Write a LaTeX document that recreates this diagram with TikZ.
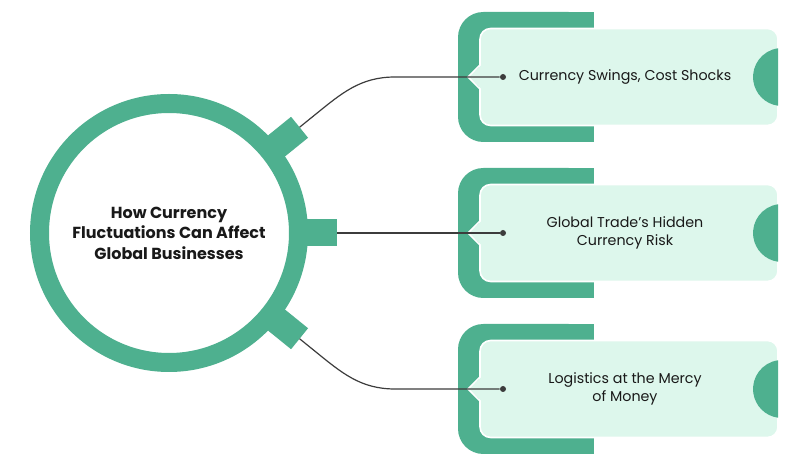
\documentclass[tikz,border=0pt]{standalone}
\usepackage{fontspec}
\setmainfont{Poppins}
\definecolor{yesil}{HTML}{4EB08F}
\definecolor{acik}{HTML}{DDF7EC}
\definecolor{cizgi}{HTML}{3C3C3C}
\begin{document}
\begin{tikzpicture}[x=0.75pt, y=0.75pt,
    etiket/.style={font=\fontsize{10.7}{13.5}\selectfont, align=center, text=black!90},
    baslik/.style={font=\bfseries\fontsize{12}{15.4}\selectfont, align=center, text=black!90},
    nokta/.style={circle, fill=cizgi, inner sep=0pt, minimum size=4.5pt},
    baglanti/.style={cizgi, line width=0.9pt},
    kutu/.style={fill=acik, draw=white, line width=1.2pt, rounded corners=8pt}]
  \useasboundingbox (0,0) rectangle (811,475);

  % kutu 1: ust
  \fill[yesil, rounded corners=19pt] (458,333) rectangle (594,463);
  \fill[yesil] (560,333) rectangle (594,463);
  \filldraw[kutu] (480,349.5) rectangle (778,446.5);
  \fill[acik] (481.5,386) -- (468,398) -- (481.5,410) -- cycle;
  \draw[white, line width=1.2pt] (480,386) -- (468,398) -- (480,410);
  \fill[yesil] (778,426.7) arc[start angle=98, end angle=262, radius=29];
  \node[nokta] (d1) at (503,398) {};
  \node[etiket] (m1) at (625,398) {Currency Swings, Cost Shocks};

  % kutu 2: orta
  \fill[yesil, rounded corners=19pt] (458,177) rectangle (594,307);
  \fill[yesil] (560,177) rectangle (594,307);
  \filldraw[kutu] (480,193.5) rectangle (778,290.5);
  \fill[acik] (481.5,230) -- (468,242) -- (481.5,254) -- cycle;
  \draw[white, line width=1.2pt] (480,230) -- (468,242) -- (480,254);
  \fill[yesil] (778,270.7) arc[start angle=98, end angle=262, radius=29];
  \node[nokta] (d2) at (503,242) {};
  \node[etiket] (m2) at (625,242) {Global Trade’s Hidden\\Currency Risk};

  % kutu 3: alt
  \fill[yesil, rounded corners=19pt] (458,21) rectangle (594,151);
  \fill[yesil] (560,21) rectangle (594,151);
  \filldraw[kutu] (480,37.5) rectangle (778,134.5);
  \fill[acik] (481.5,74) -- (468,86) -- (481.5,98) -- cycle;
  \draw[white, line width=1.2pt] (480,74) -- (468,86) -- (480,98);
  \fill[yesil] (778,114.7) arc[start angle=98, end angle=262, radius=29];
  \node[nokta] (d3) at (503,86) {};
  \node[etiket] (m3) at (625,86) {Logistics at the Mercy\\of Money};

  % merkez halka ve disleri
  \node[baslik, circle, draw=yesil, fill=white, line width=14.25pt,
        minimum size=194.25pt, inner sep=0pt] (hub) at (169,242)
    {How Currency\\Fluctuations Can Affect\\Global Businesses};
  \begin{scope}[shift={(hub.center)}, rotate=39]
    \fill[yesil] (126,-13.5) rectangle (168,13.5);
    \coordinate (tab1) at (168,0);
  \end{scope}
  \begin{scope}[shift={(hub.center)}]
    \fill[yesil] (126,-13.5) rectangle (168,13.5);
    \coordinate (tab2) at (168,0);
  \end{scope}
  \begin{scope}[shift={(hub.center)}, rotate=-39]
    \fill[yesil] (126,-13.5) rectangle (168,13.5);
    \coordinate (tab3) at (168,0);
  \end{scope}

  % baglantilar
  \draw[baglanti] (tab1) -- ++(39:20) to[out=39, in=180] (395,398) -- (d1);
  \draw[baglanti] (tab2) -- (d2);
  \draw[baglanti] (tab3) -- ++(-39:20) to[out=-39, in=180] (395,86) -- (d3);
\end{tikzpicture}
\end{document}
